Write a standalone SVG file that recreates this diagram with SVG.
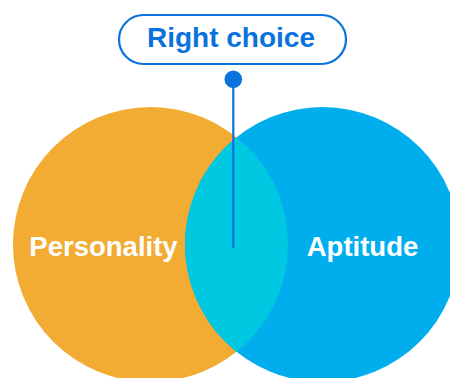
<svg xmlns="http://www.w3.org/2000/svg" width="450" height="378" viewBox="0 0 450 378">
  <style>
    .lbl { font-family: "Liberation Sans", Arial, sans-serif; font-weight: bold; font-size: 27.5px; fill: #ffffff; text-anchor: middle; }
    .title { font-family: "Liberation Sans", Arial, sans-serif; font-weight: bold; font-size: 28px; fill: #0A72DC; text-anchor: middle; }
  </style>
  <defs>
    <clipPath id="clipLeft">
      <circle cx="150.5" cy="244.5" r="137.5"/>
    </clipPath>
  </defs>
  <rect width="450" height="378" fill="#ffffff"/>
  <g id="personality">
    <circle cx="150.5" cy="244.5" r="137.5" fill="#F2AB33"/>
  </g>
  <g id="aptitude">
    <circle cx="322.5" cy="244.5" r="137.5" fill="#00AEEE"/>
  </g>
  <g id="overlap">
    <circle cx="322.5" cy="244.5" r="137.5" fill="#00C8E1" clip-path="url(#clipLeft)"/>
  </g>
  <g id="labels">
    <text class="lbl" x="103.5" y="255.5">Personality</text>
    <text class="lbl" x="362.5" y="255.5">Aptitude</text>
  </g>
  <g id="connectors">
    <line x1="233.3" y1="79" x2="233.3" y2="248" stroke="#0A72DC" stroke-width="2.2"/>
    <circle cx="233.3" cy="79.3" r="8.8" fill="#0A72DC"/>
  </g>
  <g id="right-choice">
    <rect x="119" y="15" width="227" height="49" rx="24.5" ry="24.5" fill="#ffffff" stroke="#0A72DC" stroke-width="2.2"/>
    <text class="title" x="231" y="46.5">Right choice</text>
  </g>
</svg>
